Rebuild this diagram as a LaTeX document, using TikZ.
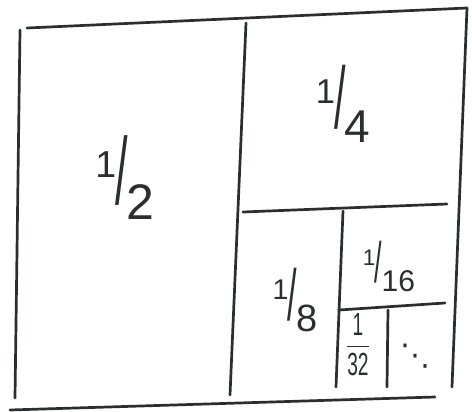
\documentclass[tikz,border=0pt]{standalone}
\usepackage{fontspec}
\setmainfont{Liberation Sans}
\newfontfamily\symboles{DejaVu Sans}
\usepackage{graphicx}
\usetikzlibrary{positioning}
\definecolor{encre}{HTML}{2B2E2E}
% fraction a la main : 1 en haut, barre oblique longue, denominateur en bas
\newcommand{\mainfrac}[2]{\raisebox{.55em}{\scalebox{.75}{#1}}\kern-.02em\scalebox{.9}[1.9]{/}\kern-.02em\raisebox{-.3em}{#2}}
% fraction empilee, etroite
\newcommand{\pilefrac}[2]{\scalebox{.6}[1]{\begin{tabular}{@{}c@{}}#1\\[1pt]\hline\rule{0pt}{.9em}#2\end{tabular}}}

\begin{document}
\begin{tikzpicture}[x=1pt, y=-1pt,
    trait/.style={line width=2.7pt, color=encre, line cap=round},
    part/.style={color=encre, inner sep=0pt}]
    \useasboundingbox (0,0) rectangle (472,412);
    % cadre
    \coordinate (hg) at (27,28);
    \coordinate (hd) at (467,8);
    \coordinate (bd) at (452,387);
    \draw[trait] (hg) -- (hd);
    \draw[trait] (20,30) -- (15,398);
    \draw[trait] (10,410) -- (435,397);
    \draw[trait] (hd) -- (bd);
    % decoupes successives
    \draw[trait] (246,23) -- (230,395);
    \draw[trait] (243,212) -- (447,204);
    \draw[trait] (343,211) -- (336,387);
    \draw[trait] (339,310) -- (445,303);
    \draw[trait] (388,310) -- (387,387);
    % etiquettes
    \node[part, font=\fontsize{50}{50}\selectfont] (demi) at (125,178) {\mainfrac{1}{2}};
    \node[part, font=\fontsize{46}{46}\selectfont] (quart) at (343,104) {\mainfrac{1}{4}};
    \node[part, font=\fontsize{38}{38}\selectfont] (huitieme) at (295,300) {\mainfrac{1}{8}};
    \node[part, font=\fontsize{30}{30}\selectfont] (seizieme) at (389,266) {\mainfrac{1}{16}};
    \node[part, font=\fontsize{32}{32}\selectfont] (trentedeux) at (358,349) {\pilefrac{1}{32}};
    \node[part, font=\fontsize{30}{30}\selectfont\symboles] (suite) at (415,356) {⋱};
\end{tikzpicture}
\end{document}
